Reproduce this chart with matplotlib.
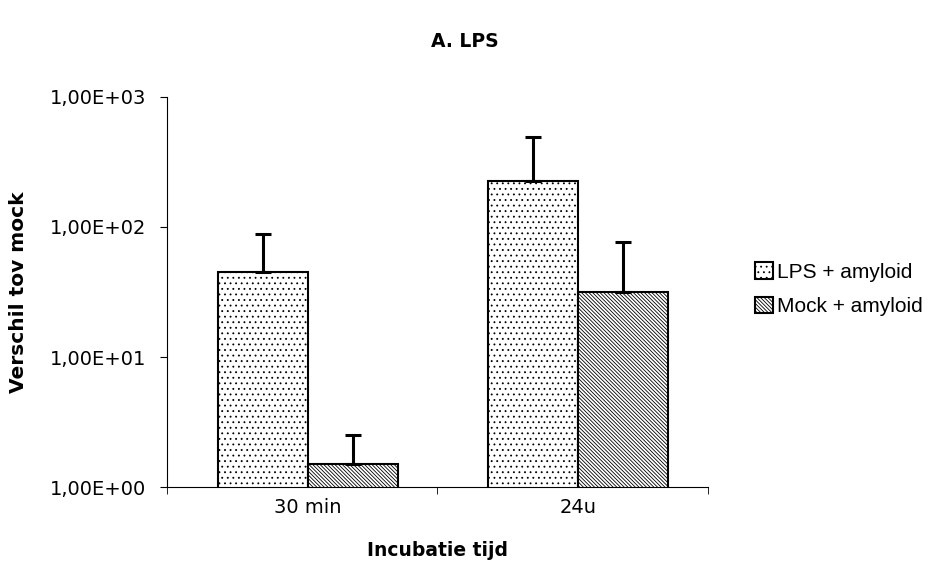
import numpy as np
import matplotlib.pyplot as plt
import matplotlib as mpl

mpl.rcParams['hatch.linewidth'] = 0.6

categories = ['30 min', '24u']
series = ['LPS + amyloid', 'Mock + amyloid']
lps = [45, 226]
lps_err = [43, 266]
mock = [1.5, 31.6]
mock_err = [1.0, 45]
yticks = [1, 10, 100, 1000]
ylabels = ['1,00E+00', '1,00E+01', '1,00E+02', '1,00E+03']

fig = plt.figure(figsize=(9.29, 5.67), dpi=100)
ax = fig.add_axes([0.1798, 0.141, 0.5822, 0.688])

x = np.arange(len(categories))
w = 0.333
b1 = ax.bar(x - w/2, lps, w, color='white', edgecolor='black', hatch='...', lw=1.5, label=series[0])
b2 = ax.bar(x + w/2, mock, w, color='white', edgecolor='black', hatch='\\' * 9, lw=1.5, label=series[1])
ax.errorbar(x - w/2, lps, yerr=[np.zeros(2), lps_err], fmt='none', ecolor='black', elinewidth=2.2, capsize=6, capthick=2.2)
ax.errorbar(x + w/2, mock, yerr=[np.zeros(2), mock_err], fmt='none', ecolor='black', elinewidth=2.2, capsize=6, capthick=2.2)

ax.set_yscale('log')
ax.set_ylim(1, 1000)
ax.set_xlim(-0.5 - 0.02, 1.5 - 0.02)
ax.set_yticks(yticks)
ax.set_yticklabels(ylabels, fontsize=14)
ax.yaxis.set_minor_locator(mpl.ticker.NullLocator())
ax.set_xticks(x)
ax.set_xticklabels(categories, fontsize=14)
ax.tick_params(axis='x', length=0, pad=8)
ax.set_xticks([-0.52, 0.48, 1.48], minor=True)
ax.tick_params(axis='x', which='minor', length=5)
ax.tick_params(axis='y', length=5, pad=10)

for s in ['top', 'right']:
    ax.spines[s].set_visible(False)

ax.set_xlabel('Incubatie tijd', fontsize=13.5, fontweight='bold', labelpad=17)
ax.set_ylabel('Verschil tov mock', fontsize=14.5, fontweight='bold', labelpad=16)
fig.suptitle('A. LPS', fontsize=13.5, fontweight='bold', y=0.943)

fig.legend(handles=[b1, b2], loc='upper left', bbox_to_anchor=(0.7925, 0.571), frameon=False,
           prop={'family': 'Liberation Sans', 'size': 15}, handlelength=0.85, handleheight=0.85,
           handletextpad=0.2, labelspacing=0.72)

fig.savefig('out.png', dpi=100)
